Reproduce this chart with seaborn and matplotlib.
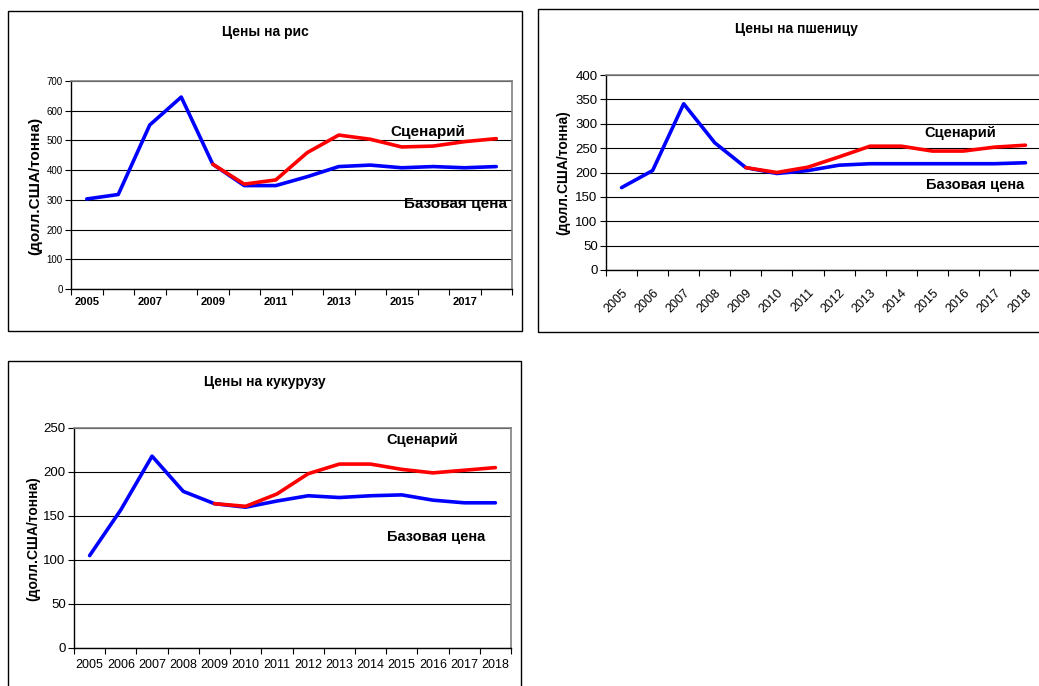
import numpy as np
import pandas as pd
import matplotlib
matplotlib.use("Agg")
import matplotlib.pyplot as plt
from matplotlib.patches import Rectangle
import seaborn as sns

years = list(range(2005, 2019))

rice_base = [303, 318, 552, 646, 420, 348, 348, 378, 412, 417, 408, 412, 408, 412]
rice_scen = [np.nan]*4 + [420, 353, 367, 459, 518, 504, 478, 481, 496, 506]

wheat_base = [169, 204, 341, 261, 210, 198, 204, 215, 218, 218, 218, 218, 218, 220]
wheat_scen = [np.nan]*4 + [210, 200, 211, 232, 254, 254, 244, 244, 252, 256]

corn_base = [105, 157, 218, 178, 164, 160, 167, 173, 171, 173, 174, 168, 165, 165]
corn_scen = [np.nan]*4 + [164, 161, 175, 198, 209, 209, 203, 199, 202, 205]

titles = ["Цены на рис", "Цены на пшеницу", "Цены на кукурузу"]
ylabel = "(долл.США/тонна)"
base_name = "Базовая цена"
scen_name = "Сценарий"

sns.set_theme(style="white")
plt.rcParams['font.family'] = ['Liberation Sans', 'DejaVu Sans']
plt.rcParams['text.color'] = 'black'
plt.rcParams['xtick.color'] = 'black'
plt.rcParams['ytick.color'] = 'black'
plt.rcParams['axes.labelcolor'] = 'black'

W, H = 1039, 686
fig = plt.figure(figsize=(W/100, H/100), dpi=100)

def fx(x): return x / W
def fy(y): return 1 - y / H

def box(x0, y0, x1, y1):
    fig.patches.append(Rectangle((fx(x0), fy(y1)), fx(x1) - fx(x0), fy(y0) - fy(y1),
                                 transform=fig.transFigure, fill=False,
                                 edgecolor='black', lw=1.0, zorder=0))

def make_axes(l, t, r, b):
    return fig.add_axes([fx(l), fy(b), fx(r) - fx(l), fy(t) - fy(b)])

palette = {base_name: '#0000FF', scen_name: '#FF0000'}

def draw(ax, base, scen, ymax, ystep):
    df = pd.DataFrame({
        'year': years * 2,
        'price': list(base) + list(scen),
        'series': [base_name] * len(years) + [scen_name] * len(years),
    }).dropna()
    sns.lineplot(data=df, x='year', y='price', hue='series',
                 hue_order=[base_name, scen_name], palette=palette,
                 lw=2.6, legend=False, ax=ax, zorder=3)
    ax.set_xlim(2004.5, 2018.5)
    ax.set_ylim(0, ymax)
    ax.set_yticks(np.arange(0, ymax + 1, ystep))
    ax.yaxis.grid(True, color='black', lw=0.8)
    ax.set_axisbelow(True)
    ax.set_xlabel('')
    ax.set_ylabel('')
    ax.set_xticks(years)
    ax.set_xticks(np.arange(2004.5, 2019, 1.0), minor=True)
    ax.tick_params(axis='x', which='major', length=0, pad=6)
    ax.tick_params(axis='x', which='minor', length=4, width=0.8, color='black', direction='out', bottom=True)
    ax.tick_params(axis='y', which='major', length=4, width=0.8, color='black', direction='out', left=True, pad=2)
    for s in ['left', 'bottom']:
        ax.spines[s].set_color('black')
        ax.spines[s].set_linewidth(1.0)
    for s in ['top', 'right']:
        ax.spines[s].set_color('#808080')
        ax.spines[s].set_linewidth(1.2)

# Rice
box(8, 11, 522, 331)
ax1 = make_axes(71, 81, 512, 289)
draw(ax1, rice_base, rice_scen, 700, 100)
ax1.set_xticklabels([str(y) if (y - 2005) % 2 == 0 else '' for y in years],
                    fontsize=8, fontweight='bold')
for lab in ax1.get_yticklabels():
    lab.set_fontsize(7)
fig.text(fx(265), fy(32), titles[0], ha='center', va='center', fontsize=10, fontweight='bold')
fig.text(fx(35), fy(186), ylabel, rotation=90, ha='center', va='center', fontsize=11, fontweight='bold')
fig.text(fx(428), fy(132), scen_name, ha='center', va='center', fontsize=11, fontweight='bold')
fig.text(fx(455), fy(204), base_name, ha='center', va='center', fontsize=11, fontweight='bold')

# Wheat
box(538, 9, 1045, 332)
ax2 = make_axes(606, 75, 1041, 270)
draw(ax2, wheat_base, wheat_scen, 400, 50)
ax2.set_xticklabels([str(y) for y in years], fontsize=9, rotation=45,
                    ha='right', rotation_mode='anchor')
ax2.tick_params(axis='x', which='major', pad=12)
for lab in ax2.get_yticklabels():
    lab.set_fontsize(9.5)
fig.text(fx(796), fy(29), titles[1], ha='center', va='center', fontsize=10, fontweight='bold')
fig.text(fx(563), fy(173), ylabel, rotation=90, ha='center', va='center', fontsize=10, fontweight='bold')
fig.text(fx(960), fy(133), scen_name, ha='center', va='center', fontsize=10.5, fontweight='bold')
fig.text(fx(975), fy(185), base_name, ha='center', va='center', fontsize=10.5, fontweight='bold')

# Corn
box(8, 361, 521, 700)
ax3 = make_axes(74, 428, 511, 648)
draw(ax3, corn_base, corn_scen, 250, 50)
ax3.set_xticklabels([str(y) for y in years], fontsize=9)
ax3.tick_params(axis='x', which='major', pad=8)
for lab in ax3.get_yticklabels():
    lab.set_fontsize(9.5)
fig.text(fx(265), fy(382), titles[2], ha='center', va='center', fontsize=10, fontweight='bold')
fig.text(fx(33), fy(539), ylabel, rotation=90, ha='center', va='center', fontsize=10, fontweight='bold')
fig.text(fx(422), fy(440), scen_name, ha='center', va='center', fontsize=10.5, fontweight='bold')
fig.text(fx(436), fy(537), base_name, ha='center', va='center', fontsize=10.5, fontweight='bold')

fig.savefig("out.png", dpi=100)
